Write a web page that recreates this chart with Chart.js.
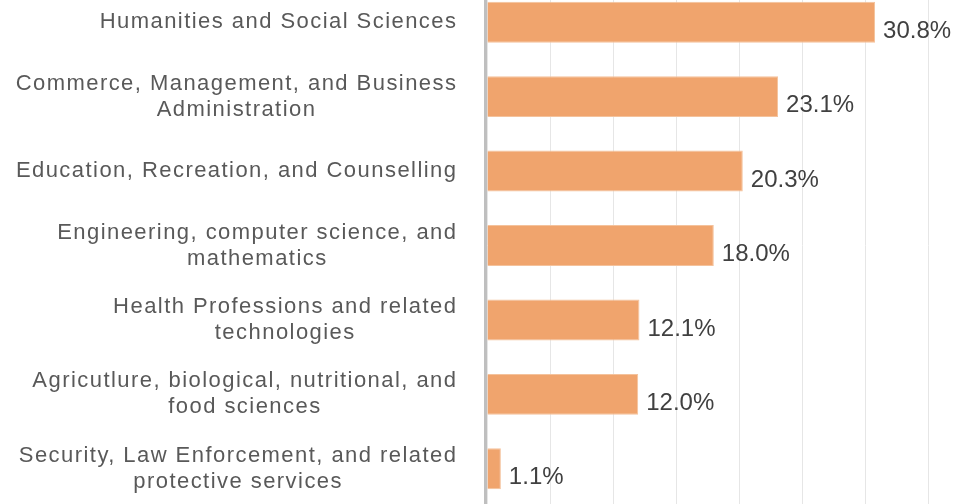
<!DOCTYPE html>
<html>
<head>
<meta charset="utf-8">
<script src="https://cdn.jsdelivr.net/npm/chart.js@4.4.0/dist/chart.umd.min.js"></script>
<style>
  html, body { margin: 0; padding: 0; background: #ffffff; overflow: hidden; width: 961px; height: 504px; }
  #wrap { position: absolute; left: 0; top: -15px; width: 961px; height: 521px; }
</style>
</head>
<body>
<div id="wrap"><canvas id="c" width="961" height="521"></canvas></div>
<script>
// ---- data ----
const categories = [
  ["Humanities and Social Sciences"],
  ["Commerce, Management, and Business", "Administration"],
  ["Education, Recreation, and Counselling"],
  ["Engineering, computer science, and", "mathematics"],
  ["Health Professions and related", "technologies"],
  ["Agricutlure, biological, nutritional, and", "food sciences"],
  ["Security, Law Enforcement, and related", "protective services"]
];
const values = [30.8, 23.1, 20.3, 18.0, 12.1, 12.0, 1.1];
const valueLabels = ["30.8%", "23.1%", "20.3%", "18.0%", "12.1%", "12.0%", "1.1%"];
const xTicks = [0, 5, 10, 15, 20, 25, 30, 35];

const labelFont = '22px "Liberation Sans", Arial, sans-serif';
const valueFont = '24px "Liberation Sans", Arial, sans-serif';

const drawPlugin = {
  id: 'customText',
  afterDraw(chart) {
    const ctx = chart.ctx;
    const area = chart.chartArea;
    const yScale = chart.scales.y;
    // axis line
    ctx.save();
    ctx.strokeStyle = '#BFBFBF';
    ctx.lineWidth = 3;
    ctx.beginPath();
    ctx.moveTo(area.left - 1.5, 0);
    ctx.lineTo(area.left - 1.5, chart.height);
    ctx.stroke();
    ctx.restore();

    // category labels
    ctx.save();
    ctx.font = labelFont;
    const ls = 1.45;
    try { ctx.letterSpacing = ls + 'px'; } catch (e) {}
    ctx.fillStyle = '#595959';
    ctx.textBaseline = 'middle';
    ctx.textAlign = 'center';
    const rightEdge = area.left - 31 + ls;
    const lineH = 26;
    categories.forEach((lines, i) => {
      const yc = yScale.getPixelForValue(i);
      const widths = lines.map(l => ctx.measureText(l).width);
      const maxW = Math.max(...widths);
      const cx = rightEdge - maxW / 2;
      const y0 = yc - (lines.length - 1) * lineH / 2;
      lines.forEach((l, k) => ctx.fillText(l, cx, y0 + k * lineH));
    });
    ctx.restore();

    // value labels
    ctx.save();
    ctx.font = valueFont;
    ctx.fillStyle = '#404040';
    ctx.textBaseline = 'middle';
    ctx.textAlign = 'left';
    const meta = chart.getDatasetMeta(0);
    meta.data.forEach((bar, i) => {
      ctx.fillText(valueLabels[i], bar.x + 8, bar.y + 9);
    });
    ctx.restore();
  }
};

new Chart(document.getElementById('c'), {
  type: 'bar',
  data: {
    labels: categories.map(c => c.join(' ')),
    datasets: [{
      data: values,
      backgroundColor: '#F0A46D',
      borderColor: '#F4C29C',
      borderWidth: 1,
      barPercentage: 0.55,
      categoryPercentage: 1.0
    }]
  },
  options: {
    indexAxis: 'y',
    responsive: false,
    animation: false,
    devicePixelRatio: 1,
    layout: { padding: { left: 0, right: 33, top: 0, bottom: 0 } },
    plugins: { legend: { display: false }, tooltip: { enabled: false } },
    scales: {
      x: {
        min: 0, max: 35,
        afterBuildTicks(scale) { scale.ticks = xTicks.map(v => ({ value: v })); },
        ticks: { display: false },
        grid: { color: '#E6E6E6', lineWidth: 1, drawTicks: false },
        border: { display: false }
      },
      y: {
        ticks: { display: false },
        grid: { display: false, drawTicks: false },
        border: { display: false },
        afterFit(scale) { scale.width = 487; }
      }
    }
  },
  plugins: [drawPlugin]
});
</script>
</body>
</html>
